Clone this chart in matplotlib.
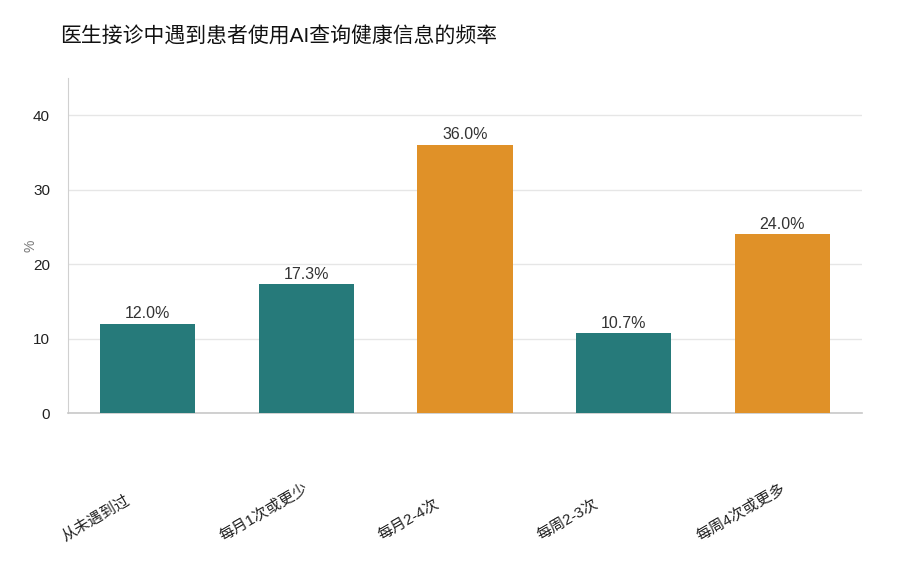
import matplotlib
matplotlib.use("Agg")
import matplotlib.pyplot as plt
import matplotlib.transforms as mtransforms

plt.rcParams['font.family'] = ['Liberation Sans', 'Noto Sans CJK SC', 'DejaVu Sans']

# data
categories = ['从未遇到过', '每月1次或更少', '每月2-4次', '每周2-3次', '每周4次或更多']
values = [12.0, 17.3, 36.0, 10.7, 24.0]
highlight = [False, False, True, False, True]

teal = '#267a7a'
orange = '#e09128'
colors = [orange if h else teal for h in highlight]

fig = plt.figure(figsize=(9, 5.62), dpi=100)
ax = fig.add_axes([0.0756, 0.265, 0.882, 0.596])

x = list(range(len(categories)))
ax.bar(x, values, width=0.6, color=colors, zorder=3)

for xi, v in zip(x, values):
    ax.annotate(f'{v:.1f}%', (xi, v), xytext=(0, 2), textcoords='offset points',
                ha='center', va='bottom', fontsize=11.5, color='#333333', zorder=4)

ax.set_xlim(-0.5, 4.5)
ax.set_ylim(0, 45)
ax.set_yticks([0, 10, 20, 30, 40])
ax.grid(axis='y', color='#e6e6e6', linewidth=1, zorder=0)

# category labels: rotated, anchored at their lower-left corner
ax.set_xticks(x)
ax.set_xticklabels([])
ax.tick_params(axis='x', length=0)
shift = mtransforms.ScaledTranslation(-0.83, 0, fig.dpi_scale_trans)
trans = mtransforms.blended_transform_factory(ax.transData, ax.transAxes) + shift
for xi, lab in zip(x, categories):
    ax.text(xi, -0.38, lab, transform=trans, rotation=30, rotation_mode='anchor',
            ha='left', va='baseline', fontsize=11, color='#222222', clip_on=False)

ax.tick_params(axis='y', length=0, pad=13, labelsize=11, labelcolor='#222222')

for s in ['top', 'right']:
    ax.spines[s].set_visible(False)
ax.spines['left'].set_color('#d0d0d0')
ax.spines['bottom'].set_color('#c8c8c8')
ax.spines['bottom'].set_linewidth(1.2)

ax.set_ylabel('%', fontsize=10, color='#777777', labelpad=0)
ax.yaxis.set_label_coords(-0.038, 0.5)

fig.text(0.067, 0.935, '医生接诊中遇到患者使用AI查询健康信息的频率',
         fontsize=15, color='#111111', ha='left', va='center')

fig.savefig('out.png', dpi=100)
